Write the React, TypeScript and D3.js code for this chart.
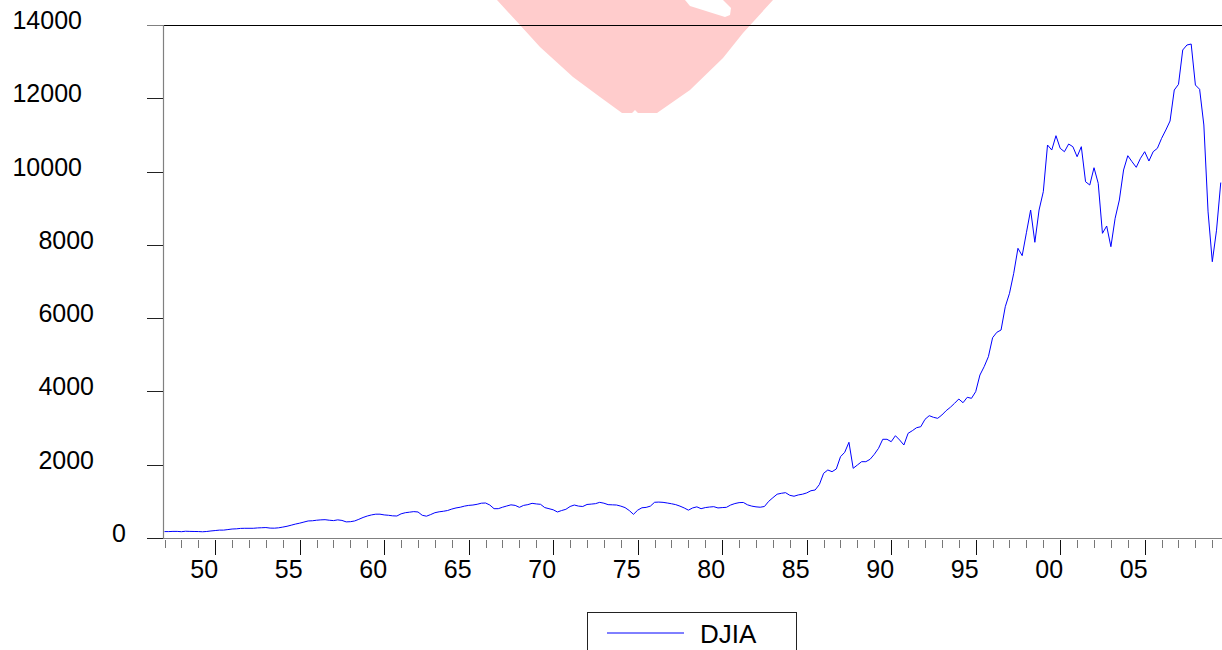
import React from 'react';
import * as d3 from 'd3';

// DJIA, quarterly, 1947Q1 .. 2009Q3
const startYear = 1947;
const djia: number[] = [
  175, 175, 180, 180, // 1947
  172, 185, 180, 178,
  176, 170, 178, 192,
  203, 215, 215, 230, // 1950
  245, 250, 262, 265,
  265, 265, 275, 280,
  285, 270, 268, 278,
  298, 320, 350, 380,
  405, 435, 465, 470, // 1955
  485, 495, 500, 485,
  475, 495, 480, 440,
  445, 465, 510, 560,
  600, 630, 650, 650,
  630, 620, 605, 600, // 1960
  660, 690, 705, 720,
  710, 620, 595, 640,
  690, 715, 730, 750,
  790, 820, 840, 870,
  890, 900, 920, 950, // 1965
  955, 900, 800, 800,
  840, 873, 905, 890,
  837, 890, 910, 946,
  930, 919, 830, 800,
  770, 710, 750, 783, // 1970
  860, 900, 870, 860,
  915, 925, 937, 973,
  950, 910, 905, 900,
  870, 830, 750, 646,
  760, 825, 835, 870, // 1975
  975, 980, 973, 955,
  935, 910, 870, 820,
  760, 820, 850, 800,
  830, 845, 855, 820,
  830, 837, 900, 940, // 1980
  965, 970, 905, 870,
  850, 840, 860, 1000,
  1100, 1195, 1220, 1237,
  1165, 1140, 1175, 1195,
  1230, 1290, 1310, 1460, // 1985
  1765, 1856, 1810, 1883,
  2219, 2339, 2612, 1902,
  1992, 2083, 2083, 2147,
  2284, 2448, 2694, 2694,
  2628, 2792, 2674, 2538, // 1990
  2857, 2928, 3010, 3037,
  3239, 3338, 3294, 3266,
  3357, 3474, 3567, 3676,
  3793, 3692, 3840, 3812,
  3993, 4448, 4675, 4948, // 1995
  5466, 5613, 5676, 6312,
  6678, 7224, 7906, 7705,
  8330, 8951, 8070, 8951,
  9451, 10725, 10588, 10979,
  10635, 10542, 10752, 10679, // 2000
  10406, 10679, 9723, 9633,
  10105, 9680, 8315, 8515,
  7950, 8725, 9224, 10043,
  10433, 10269, 10116, 10361,
  10542, 10288, 10542, 10635, // 2005
  10907, 11134, 11380, 12226,
  12381, 13318, 13454, 13481,
  12362, 12245, 11271, 8900,
  7540, 8400, 9700,
];
const yTicks = [0, 2000, 4000, 6000, 8000, 10000, 12000, 14000];
const tickYears = d3.range(1947, 2010);
const labelYears = [1950, 1955, 1960, 1965, 1970, 1975, 1980, 1985, 1990, 1995, 2000, 2005];
const seriesName = 'DJIA';

const W = 1222;
const H = 650;
const left = 163;
const top = 25;
const bottom = 538;
const font = '"Liberation Sans", Arial, Helvetica, sans-serif';

// label right edges by digit count (as in the original output)
const yLabelEnd: Record<number, number> = { 1: 126, 4: 94, 5: 82 };

export default function App() {
  const x = d3.scaleLinear().domain([1947, 2010]).range([164.5, 164.5 + 63 * 16.9]);
  const y = d3.scaleLinear().domain([0, 14000]).range([bottom, top]);

  const points = djia.map((v, i) => ({ t: startYear + i / 4, v }));
  const line = d3
    .line<{ t: number; v: number }>()
    .x(d => x(d.t))
    .y(d => y(d.v));

  return (
    <div>
      <style>{`body{margin:0}`}</style>
      <svg width={W} height={H} style={{ display: 'block', background: '#fff' }}>
        <defs>
          <clipPath id="plot">
            <rect x={left} y={top - 2} width={W - left} height={bottom - top + 2} />
          </clipPath>
        </defs>

        {/* faint watermark */}
        <path
          d="M497,0 L773,0 L743,33 L723,58 L690,90 L657,113 L638,113 L635,110 L632,113 L622,113 L600,97 L573,77 L540,47 L520,25 Z"
          fill="#ffcccc"
        />
        <path d="M685,0 L723,0 L731,8 L730,15 L725,17 L690,6 Z" fill="#fff" />

        {/* frame */}
        <line x1={left} x2={W} y1={top + 0.5} y2={top + 0.5} stroke="#000" strokeWidth={1} />
        <line x1={left + 0.5} x2={left + 0.5} y1={top} y2={bottom + 1} stroke="#808080" strokeWidth={1.2} />
        <line x1={left} x2={W} y1={bottom + 0.5} y2={bottom + 0.5} stroke="#808080" strokeWidth={1.2} />

        {/* y axis */}
        {yTicks.map(t => {
          const label = String(t);
          return (
            <g key={t}>
              <line x1={147} x2={left} y1={Math.round(y(t)) + 0.5} y2={Math.round(y(t)) + 0.5} stroke={t === 14000 ? '#808080' : '#222'} strokeWidth={1} />
              <text x={yLabelEnd[label.length]} y={y(t) + 4} textAnchor="end" fontFamily={font} fontSize={25} fill="#000">
                {label}
              </text>
            </g>
          );
        })}

        {/* x axis */}
        {tickYears.map(yr => {
          const major = yr % 5 === 0;
          const xx = Math.round(x(yr)) + 0.5;
          return (
            <line
              key={yr}
              x1={xx}
              x2={xx}
              y1={bottom + 2}
              y2={major ? bottom + 17 : bottom + 10}
              stroke={major ? '#111' : '#777'}
              strokeWidth={1}
            />
          );
        })}
        {labelYears.map(yr => (
          <text key={yr} x={x(yr) - 11} y={578} textAnchor="middle" fontFamily={font} fontSize={25} fill="#000">
            {String(yr % 100).padStart(2, '0')}
          </text>
        ))}

        {/* series */}
        <path d={line(points) ?? ''} fill="none" stroke="#0000ff" strokeWidth={1} clipPath="url(#plot)" />

        {/* legend */}
        <rect x={587.5} y={612.5} width={209} height={50} fill="none" stroke="#222" strokeWidth={1} />
        <line x1={607} x2={684} y1={633} y2={633} stroke="#0000ff" strokeWidth={1} />
        <text x={700} y={643} fontFamily={font} fontSize={26} fill="#000">
          {seriesName}
        </text>
      </svg>
    </div>
  );
}
